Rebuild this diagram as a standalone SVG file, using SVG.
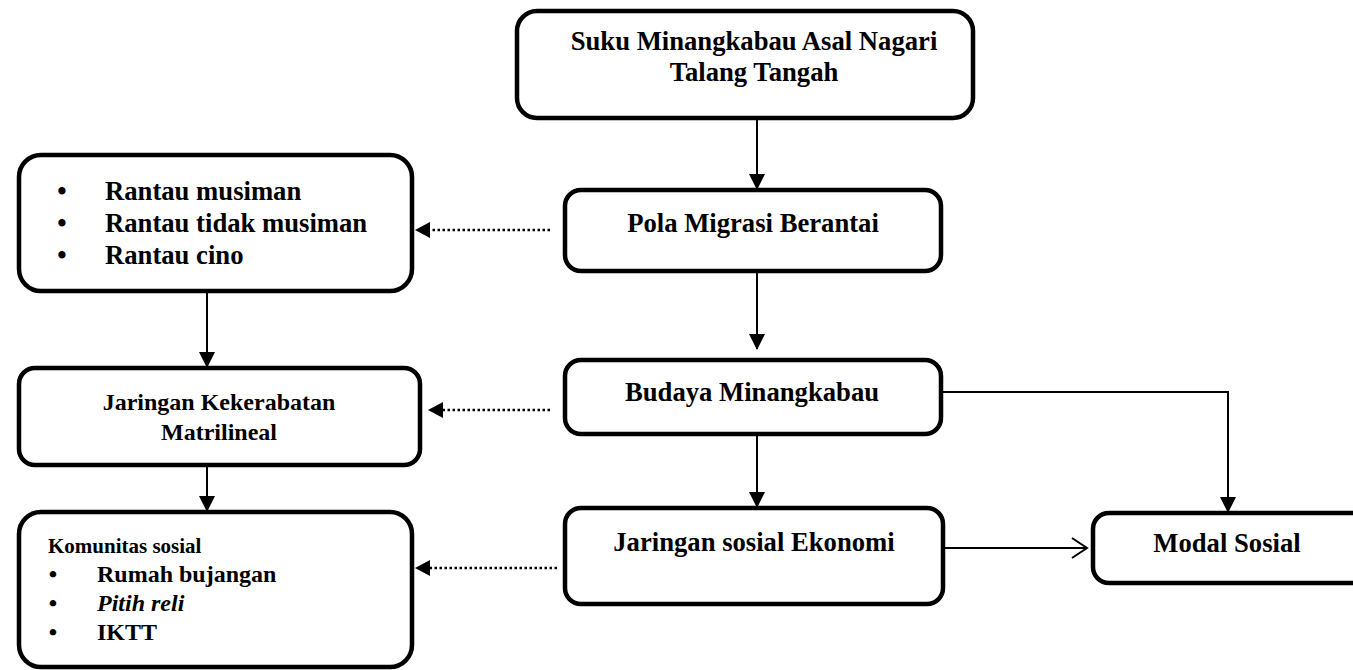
<svg xmlns="http://www.w3.org/2000/svg" width="1353" height="670" viewBox="0 0 1353 670">
  <defs>
    <marker id="tri" markerUnits="userSpaceOnUse" markerWidth="16" markerHeight="16" viewBox="0 0 16 16" refX="15" refY="8" orient="auto">
      <path d="M0,0 L16,8 L0,16 Z" fill="#000"/>
    </marker>
    <marker id="open" markerUnits="userSpaceOnUse" markerWidth="20" markerHeight="24" viewBox="0 0 20 24" refX="17" refY="12" orient="auto">
      <path d="M2,2 L17,12 L2,22" fill="none" stroke="#000" stroke-width="2"/>
    </marker>
  </defs>
  <style>
    .box { fill: #fff; stroke: #000; stroke-width: 4.5; }
    .t { font-family: "Liberation Serif", "Times New Roman", serif; font-weight: bold; fill: #000; }
    .c { text-anchor: middle; }
    .f20 { font-size: 26.67px; }
    .f18 { font-size: 24px; }
    .f16 { font-size: 21px; }
    .line { fill: none; stroke: #000; stroke-width: 2; }
    .dot { fill: none; stroke: #000; stroke-width: 2.5; stroke-dasharray: 2.5 2.5; }
  </style>

  <g id="connectors">
    <line class="line" x1="757" y1="118" x2="757" y2="189" marker-end="url(#tri)"/>
    <line class="line" x1="757" y1="271" x2="757" y2="349" marker-end="url(#tri)"/>
    <line class="line" x1="757" y1="434" x2="757" y2="507" marker-end="url(#tri)"/>
    <polyline class="line" points="941,392 1228,392 1228,512" marker-end="url(#tri)"/>
    <line class="line" x1="943" y1="548" x2="1087" y2="548" marker-end="url(#open)"/>
    <line class="line" x1="207" y1="291" x2="207" y2="367" marker-end="url(#tri)"/>
    <line class="line" x1="207" y1="465" x2="207" y2="511" marker-end="url(#tri)"/>
    <line class="dot" x1="550" y1="230" x2="426" y2="230"/>
    <path d="M415,230 L430,222 L430,238 Z" fill="#000"/>
    <line class="dot" x1="550" y1="410" x2="440" y2="410"/>
    <path d="M428,410 L443,402 L443,418 Z" fill="#000"/>
    <line class="dot" x1="557" y1="568" x2="426" y2="568"/>
    <path d="M415,568 L430,560 L430,576 Z" fill="#000"/>
  </g>

  <g id="node-suku">
    <rect class="box" x="517" y="11" width="456" height="107" rx="20"/>
    <text class="t f20 c" x="754" y="50">Suku Minangkabau Asal Nagari</text>
    <text class="t f20 c" x="754" y="81">Talang Tangah</text>
  </g>

  <g id="node-pola">
    <rect class="box" x="565" y="190" width="376" height="81" rx="16"/>
    <text class="t f20 c" x="753" y="232">Pola Migrasi Berantai</text>
  </g>

  <g id="node-budaya">
    <rect class="box" x="565" y="360" width="376" height="74" rx="16"/>
    <text class="t f20 c" x="752" y="401">Budaya Minangkabau</text>
  </g>

  <g id="node-jaringan-ekonomi">
    <rect class="box" x="565" y="508" width="378" height="96" rx="16"/>
    <text class="t f20 c" x="754" y="551">Jaringan sosial Ekonomi</text>
  </g>

  <g id="node-modal">
    <rect class="box" x="1093" y="513" width="275" height="70" rx="16"/>
    <text class="t f20 c" x="1227" y="552">Modal Sosial</text>
  </g>

  <g id="node-rantau">
    <rect class="box" x="19" y="155" width="393" height="136" rx="22"/>
    <text class="t f20 c" x="62" y="200">•</text>
    <text class="t f20" x="105" y="200">Rantau musiman</text>
    <text class="t f20 c" x="62" y="232">•</text>
    <text class="t f20" x="105" y="232">Rantau tidak musiman</text>
    <text class="t f20 c" x="62" y="264">•</text>
    <text class="t f20" x="105" y="264">Rantau cino</text>
  </g>

  <g id="node-kekerabatan">
    <rect class="box" x="19" y="368" width="401" height="97" rx="16"/>
    <text class="t f18 c" x="219" y="410">Jaringan Kekerabatan</text>
    <text class="t f18 c" x="219" y="440">Matrilineal</text>
  </g>

  <g id="node-komunitas">
    <rect class="box" x="19" y="512" width="393" height="155" rx="22"/>
    <text class="t f16" x="48" y="553">Komunitas sosial</text>
    <text class="t f18 c" x="53" y="582">•</text>
    <text class="t f18" x="97" y="582">Rumah bujangan</text>
    <text class="t f18 c" x="53" y="611">•</text>
    <text class="t f18" x="97" y="611" font-style="italic">Pitih reli</text>
    <text class="t f18 c" x="53" y="640">•</text>
    <text class="t f18" x="97" y="640">IKTT</text>
  </g>
</svg>
